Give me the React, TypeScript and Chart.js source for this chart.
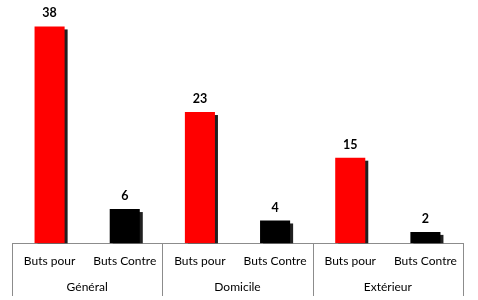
import React, { useEffect, useRef } from "react";
import { Chart, registerables } from "chart.js";

Chart.register(...registerables);

const categories = ["Buts pour", "Buts Contre", "Buts pour", "Buts Contre", "Buts pour", "Buts Contre"];
const groups = ["Général", "Domicile", "Extérieur"];
const values = [38, 6, 23, 4, 15, 2];
const barColors = ["#ff0000", "#000000", "#ff0000", "#000000", "#ff0000", "#000000"];

const FONT = "Lato, 'Open Sans', sans-serif";

const shadowPlugin = {
  id: "barShadow",
  beforeDatasetsDraw(chart: any) {
    const ctx = chart.ctx;
    const meta = chart.getDatasetMeta(0);
    ctx.save();
    ctx.fillStyle = "rgba(20,20,20,0.95)";
    meta.data.forEach((el: any) => {
      const { x, y, base, width } = el.getProps(["x", "y", "base", "width"], true);
      ctx.fillRect(x - width / 2 + 3, y + 3, width, base - y - 3);
    });
    ctx.restore();
  },
  afterDatasetsDraw(chart: any) {
    const ctx = chart.ctx;
    const meta = chart.getDatasetMeta(0);
    ctx.save();
    ctx.fillStyle = "#000";
    ctx.font = `bold 12.5px ${FONT}`;
    ctx.textAlign = "center";
    ctx.textBaseline = "middle";
    meta.data.forEach((el: any, i: number) => {
      const { x, y } = el.getProps(["x", "y"], true);
      ctx.fillText(String(values[i]), x, y - 13);
    });
    ctx.restore();
  },
  afterDraw(chart: any) {
    const ctx = chart.ctx;
    const xs = chart.scales.x;
    ctx.save();
    ctx.strokeStyle = "#8c8c8c";
    ctx.lineWidth = 1;
    [-0.5, 1.5, 3.5, 5.5].forEach((b) => {
      const px = Math.round(xs.getPixelForValue(b)) + 0.5;
      ctx.beginPath();
      ctx.moveTo(px, xs.top);
      ctx.lineTo(px, chart.height - 4);
      ctx.stroke();
    });
    ctx.restore();
  },
};

export default function App() {
  const ref = useRef<HTMLCanvasElement>(null);
  useEffect(() => {
    document.body.style.margin = "0";
    const chart = new Chart(ref.current!, {
      type: "bar",
      data: {
        labels: categories,
        datasets: [
          {
            data: values,
            backgroundColor: barColors,
            barPercentage: 0.4,
            categoryPercentage: 1,
          },
        ],
      },
      options: {
        animation: false,
        responsive: true,
        maintainAspectRatio: false,
        layout: { padding: { left: 12, right: 15, top: 15, bottom: -3.1 } },
        plugins: { legend: { display: false }, tooltip: { enabled: false } },
        scales: {
          x: {
            type: "category",
            position: "bottom",
            offset: true,
            grid: { display: true, drawOnChartArea: false, drawTicks: true, tickLength: 8, color: "rgba(0,0,0,0)" },
            border: { display: true, color: "#8c8c8c", width: 1 },
            ticks: { color: "#000", font: { family: FONT, size: 12 }, padding: 3, maxRotation: 0, autoSkip: false },
          },
          x2: {
            type: "category",
            position: "bottom",
            labels: groups,
            offset: true,
            grid: { display: false, drawTicks: false },
            border: { display: false },
            ticks: { color: "#000", font: { family: FONT, size: 12 }, padding: 8.5, maxRotation: 0, autoSkip: false },
          },
          y: { display: false, min: 0, max: 40 },
        },
      },
      plugins: [shadowPlugin],
    });
    return () => chart.destroy();
  }, []);
  return (
    <div style={{ width: 478, height: 300, position: "relative" }}>
      <canvas ref={ref} />
    </div>
  );
}
